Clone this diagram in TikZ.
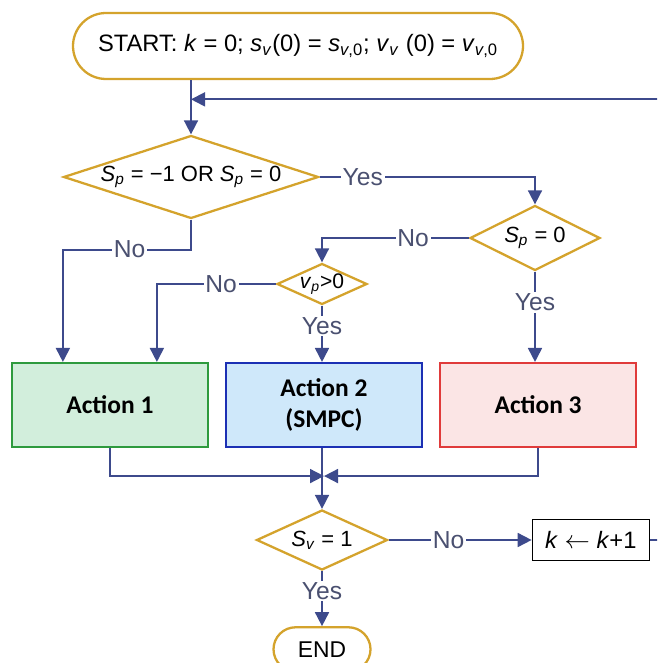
\documentclass[tikz,border=0pt]{standalone}
\usepackage{fontspec}
\setmainfont{Liberation Sans}
\newfontfamily\actfont{Carlito}
\usetikzlibrary{positioning,arrows.meta,shapes.geometric,calc}
\definecolor{fcgold}{HTML}{D4A32C}
\definecolor{fcnavy}{HTML}{3D4A8C}
\definecolor{fclabel}{HTML}{4A5070}
\definecolor{fcgreen}{HTML}{2E9A3E}
\definecolor{fcblue}{HTML}{1C30B4}
\definecolor{fcred}{HTML}{E03B3B}
\definecolor{fcbggreen}{HTML}{D2EEDC}
\definecolor{fcbgblue}{HTML}{CFE8FA}
\definecolor{fcbgred}{HTML}{FBE5E5}
\newcommand{\vv}[1]{\textit{#1}}

\begin{document}
\begin{tikzpicture}[
  font=\fontsize{13}{15}\selectfont,
  term/.style={draw=fcgold, line width=1.3pt, fill=white, rounded corners=#1, align=center, inner sep=2pt},
  cond/.style={diamond, draw=fcgold, line width=1.3pt, fill=white, inner sep=0pt, font=\fontsize{12.5}{14}\selectfont},
  act/.style={draw=#1, line width=1.2pt, minimum width=3.92cm, minimum height=1.68cm, align=center, font=\actfont\bfseries\fontsize{14.5}{18}\selectfont},
  flow/.style={draw=fcnavy, line width=1pt, -{Triangle[length=2.8mm, width=2.8mm]}},
  lbl/.style={fill=white, inner sep=1pt, text=fclabel, font=\fontsize{14}{16}\selectfont}
]
\useasboundingbox (0,0) rectangle (13.14,-13.26);
\clip (0,0) rectangle (13.14,-13.26);
% Terminal
\node[term=0.66cm, minimum width=9cm, minimum height=1.32cm, font=\fontsize{13.5}{16}\selectfont] (start) at (5.96,-0.92)
  {START: \vv{k} = 0; \vv{s}\textsubscript{\vv{v}}(0) = \vv{s}\textsubscript{\vv{v},0}; \vv{v}\textsubscript{\vv{v}} (0) = \vv{v}\textsubscript{\vv{v},0}};
% Decisions
\node[cond, minimum width=5.1cm, minimum height=1.66cm, shape aspect=3.07] (d1) at (3.82,-3.54) {\vv{S}\textsubscript{\vv{p}} = −1 OR \vv{S}\textsubscript{\vv{p}} = 0};
\node[cond, minimum width=2.6cm, minimum height=1.3cm, shape aspect=2] (d2) at (10.70,-4.76) {\vv{S}\textsubscript{\vv{p}} = 0};
\node[cond, minimum width=1.8cm, minimum height=0.82cm, shape aspect=2.2, font=\fontsize{12}{14}\selectfont] (d3) at (6.44,-5.68) {\vv{v}\textsubscript{\vv{p}}>0};
% Actions
\node[act=fcblue, fill=fcbgblue] (act2) at (6.48,-8.10) {Action 2\\(SMPC)};
\node[act=fcgreen, fill=fcbggreen, left=0.32cm of act2] (act1) {Action 1};
\node[act=fcred, fill=fcbgred, right=0.32cm of act2] (act3) {Action 3};
% Stop test
\node[cond, minimum width=2.62cm, minimum height=1.2cm, shape aspect=2.18] (d4) at (6.44,-10.80) {\vv{S}\textsubscript{\vv{v}} = 1};
\node[draw, line width=0.8pt, minimum width=2.34cm, minimum height=0.82cm, right=2.86cm of d4, font=\fontsize{13.5}{16}\selectfont] (inc) {\vv{k} \ensuremath{\leftarrow} \vv{k}+1};
\node[term=0.44cm, minimum width=1.94cm, minimum height=0.88cm, below=1.1cm of d4] (stop) {END};
\coordinate (loop) at ($(d1.north)+(0,0.7)$);
\coordinate (mrg) at ($(act2.south)+(0,-0.56)$);
% Edges
\draw[flow] (start.south -| d1.north) -- (d1.north);
\draw[flow] (inc.east) -- ++(0.6,0) |- (loop);
\draw[flow] (d1.east) -| node[lbl, pos=0.1]{Yes} (d2.north);
\draw[flow] (d2.west) -| node[lbl, pos=0.19]{No} (d3.north);
\draw[flow] (d3.west) -| node[lbl, pos=0.23]{No} ([xshift=0.94cm]act1.north);
\draw[flow] (d1.south) -- ++(0,-0.6) -| node[lbl, pos=0.24]{No} ([xshift=-0.94cm]act1.north);
\draw[flow] (d3.south) -- node[lbl, pos=0.36]{Yes} (d3.south |- act2.north);
\draw[flow] (d2.south) -- node[lbl, pos=0.34]{Yes} (d2.south |- act3.north);
\draw[flow] (act1.south) |- (mrg);
\draw[flow] (act3.south) |- (mrg);
\draw[flow] (act2.south -| d4.north) -- (d4.north);
\draw[flow] (d4.east) -- node[lbl, pos=0.42]{No} (inc.west);
\draw[flow] (d4.south) -- node[lbl, pos=0.36]{Yes} (stop.north);
\end{tikzpicture}
\end{document}
